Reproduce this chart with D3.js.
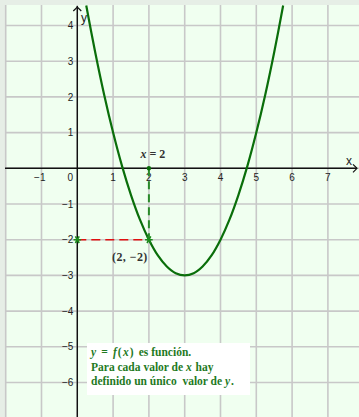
<!DOCTYPE html>
<html>
<head>
<meta charset="utf-8">
<script src="https://cdn.jsdelivr.net/npm/d3@7"></script>
<style>
  html, body { margin: 0; padding: 0; background: #e6eee6; }
  svg { display: block; }
  .serif { font-family: "Liberation Serif", "DejaVu Serif", serif; }
  .sans { font-family: "Liberation Sans", Arial, sans-serif; }
</style>
</head>
<body>
<svg id="chart" width="359" height="417"></svg>
<script>
// Parabola y = f(x), points along the curve
const curveX = [0.25, 0.5, 0.75, 1, 1.25, 1.5, 1.75, 2, 2.25, 2.5, 2.75, 3, 3.25, 3.5, 3.75, 4, 4.25, 4.5, 4.75, 5, 5.25, 5.5, 5.75];
const curveY = [4.56, 3.25, 2.06, 1, 0.06, -0.75, -1.44, -2, -2.44, -2.75, -2.94, -3, -2.94, -2.75, -2.44, -2, -1.44, -0.75, 0.06, 1, 2.06, 3.25, 4.56];

// Tick labels
const xTicks = [-1, 0, 1, 2, 3, 4, 5, 6, 7];
const yTicks = [4, 3, 2, 1, -1, -2, -3, -4, -5, -6];

// Highlighted point and the note text
const pointX = [2];
const pointY = [-2];
const noteLines = [
  [{t: "y", i: true}, {t: " = ", m: true}, {t: "f", i: true}, {t: "(", m: true}, {t: "x", i: true}, {t: ") ", m: true}, {t: "es función."}],
  [{t: "Para cada valor de "}, {t: "x", i: true}, {t: " hay"}],
  [{t: "definido un único  valor de "}, {t: "y", i: true}, {t: "."}]
];

const W = 359, H = 417;
const svg = d3.select("#chart");

const plot = {left: 5, top: 5, right: W, bottom: H};
const x = d3.scaleLinear().domain([0, 1]).range([77.3, 113.1]);
const y = d3.scaleLinear().domain([0, 1]).range([168.3, 132.6]);

// Outer frame and plot background
svg.append("rect").attr("width", W).attr("height", H).attr("fill", "#e6eee6");
svg.append("rect")
  .attr("x", plot.left).attr("y", plot.top)
  .attr("width", plot.right - plot.left).attr("height", plot.bottom - plot.top)
  .attr("fill", "#f0fff0");

svg.append("clipPath").attr("id", "clip")
  .append("rect")
  .attr("x", plot.left - 1).attr("y", plot.top)
  .attr("width", plot.right - plot.left + 1).attr("height", plot.bottom - plot.top);

const g = svg.append("g").attr("clip-path", "url(#clip)");

// Grid
const gx = d3.range(-2, 9);
const gy = d3.range(-7, 6);
g.append("g").selectAll("line").data(gx).join("line")
  .attr("x1", d => x(d)).attr("x2", d => x(d))
  .attr("y1", plot.top).attr("y2", plot.bottom)
  .attr("stroke", "#c8c8c8").attr("stroke-width", 1.6);
g.append("g").selectAll("line").data(gy).join("line")
  .attr("y1", d => y(d)).attr("y2", d => y(d))
  .attr("x1", plot.left).attr("x2", plot.right)
  .attr("stroke", "#c8c8c8").attr("stroke-width", 1.6);

// Axes with arrow heads
const axisColor = "#111";
g.append("line")
  .attr("x1", plot.left).attr("x2", W - 2)
  .attr("y1", y(0)).attr("y2", y(0))
  .attr("stroke", axisColor).attr("stroke-width", 1.4);
g.append("path")
  .attr("d", `M${W - 6},${y(0) - 4} L${W - 2},${y(0)} L${W - 6},${y(0) + 4}`)
  .attr("fill", "none").attr("stroke", axisColor).attr("stroke-width", 1.2);
g.append("line")
  .attr("x1", x(0)).attr("x2", x(0))
  .attr("y1", plot.top + 1).attr("y2", plot.bottom)
  .attr("stroke", axisColor).attr("stroke-width", 1.4);
g.append("path")
  .attr("d", `M${x(0) - 4},${plot.top + 6} L${x(0)},${plot.top + 2} L${x(0) + 4},${plot.top + 6}`)
  .attr("fill", "none").attr("stroke", axisColor).attr("stroke-width", 1.2);

// Axis names
g.append("text").attr("class", "sans").attr("x", 346).attr("y", 165)
  .attr("font-size", 12).attr("fill", "#222").text("x");
g.append("text").attr("class", "sans").attr("x", 81).attr("y", 22)
  .attr("font-size", 12).attr("fill", "#222").text("y");

// Tick labels
const fmt = d => d < 0 ? "\u2212" + Math.abs(d) : String(d);
g.append("g").attr("class", "sans").selectAll("text").data(xTicks).join("text")
  .attr("x", d => d === 0 ? x(0) - 7 : x(d))
  .attr("y", y(0) + 12.5)
  .attr("text-anchor", d => d < 0 ? "end" : "middle")
  .attr("dx", d => d < 0 ? 4 : 0)
  .attr("font-size", 10)
  .attr("fill", "#222").text(fmt);
g.append("g").attr("class", "sans").selectAll("text").data(yTicks).join("text")
  .attr("x", x(0) - 4)
  .attr("y", d => y(d))
  .attr("dy", "0.36em")
  .attr("text-anchor", "end")
  .attr("font-size", 10)
  .attr("fill", "#222").text(fmt);

// Curve
const curvePts = curveX.map((d, i) => [d, curveY[i]]);
g.append("path")
  .datum(curvePts)
  .attr("d", d3.line().x(d => x(d[0])).y(d => y(d[1])).curve(d3.curveCatmullRom))
  .attr("fill", "none").attr("stroke", "#0a6e0a").attr("stroke-width", 2.2);

// Guide lines through the point
const px = pointX[0], py = pointY[0];
g.append("line")
  .attr("x1", x(px)).attr("x2", x(px))
  .attr("y1", y(0)).attr("y2", y(py))
  .attr("stroke", "#2a8a2a").attr("stroke-width", 2)
  .attr("stroke-dasharray", "8,5");
g.append("line")
  .attr("x1", x(0)).attr("x2", x(px))
  .attr("y1", y(py)).attr("y2", y(py))
  .attr("stroke", "#e01010").attr("stroke-width", 1.6)
  .attr("stroke-dasharray", "9,5");

g.append("circle").attr("cx", x(px)).attr("cy", y(0)).attr("r", 2.2).attr("fill", "#0a6e0a");

// Markers at (0, y) and (x, y)
const star = d3.symbol().type(d3.symbolAsterisk).size(40);
g.append("g").selectAll("path").data([[0, py], [px, py]]).join("path")
  .attr("transform", d => `translate(${x(d[0])},${y(d[1])}) rotate(30)`)
  .attr("d", star)
  .attr("fill", "none").attr("stroke", "#1a8a1a").attr("stroke-width", 1.6);

// Math labels
const lx = g.append("text").attr("class", "serif").attr("x", x(px) + 4).attr("y", 158)
  .attr("text-anchor", "middle")
  .attr("font-size", 12).attr("font-weight", "bold").attr("fill", "#333");
lx.append("tspan").attr("font-style", "italic").text("x");
lx.append("tspan").attr("xml:space", "preserve").text(" = " + px);

g.append("text").attr("class", "serif").attr("x", x(px) - 19).attr("y", 261)
  .attr("text-anchor", "middle")
  .attr("font-size", 12).attr("font-weight", "bold").attr("fill", "#333")
  .attr("letter-spacing", 0.4)
  .text(`(${px}, \u2212${Math.abs(py)})`);

// Note box
g.append("rect").attr("x", 87).attr("y", 343).attr("width", 163).attr("height", 52).attr("fill", "#ffffff");
const note = g.append("g").attr("class", "serif").attr("font-size", 11.5)
  .attr("font-weight", "bold").attr("fill", "#1f7a1f");
noteLines.forEach((parts, i) => {
  const t = note.append("text").attr("x", 91).attr("y", 356 + i * 14.5);
  parts.forEach(p => {
    const s = t.append("tspan").text(p.t).attr("xml:space", "preserve");
    if (p.i) s.attr("font-style", "italic").attr("letter-spacing", 1);
    if (p.m) s.attr("letter-spacing", 1.2);
  });
});
</script>
</body>
</html>
